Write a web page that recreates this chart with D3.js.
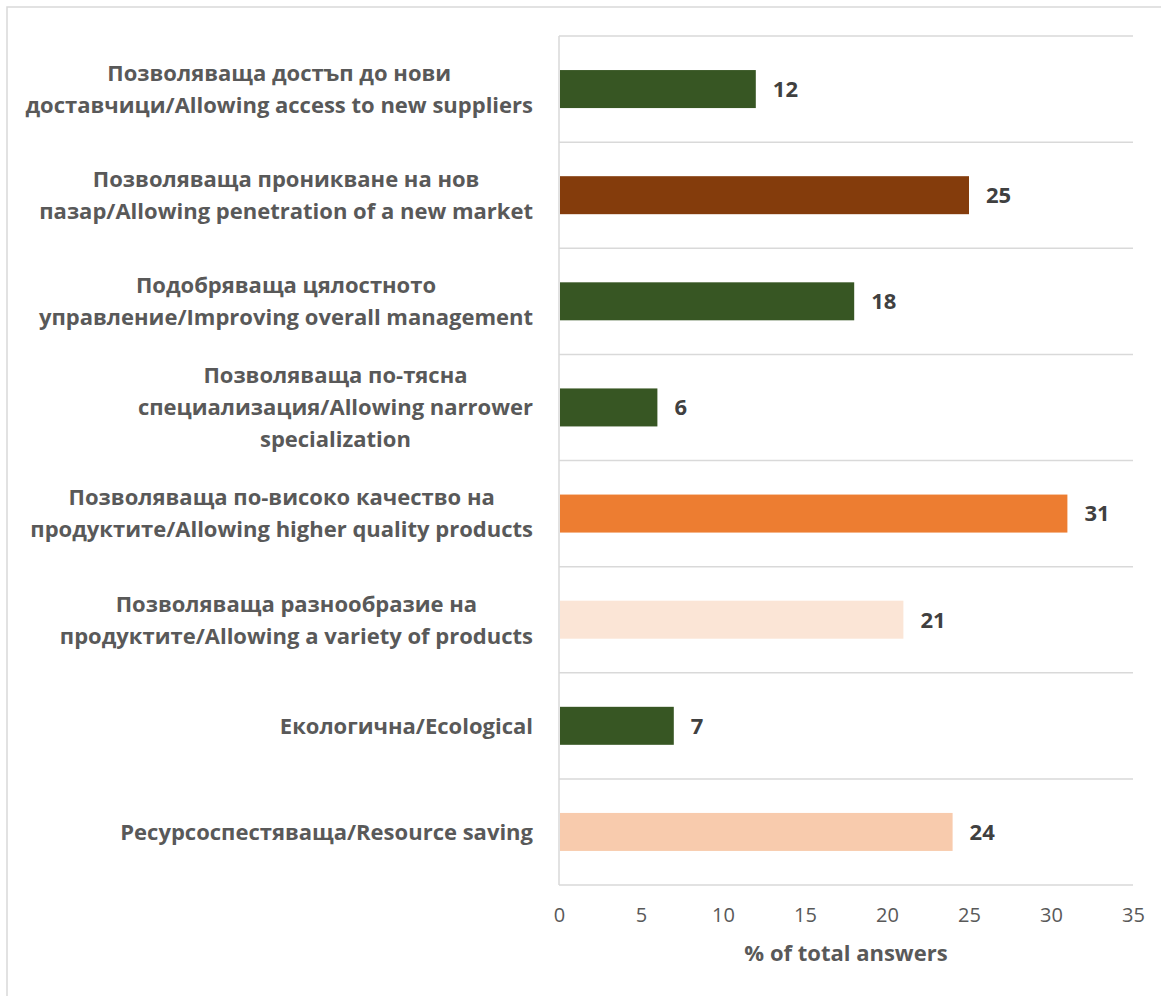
<!DOCTYPE html>
<html>
<head>
<meta charset="utf-8">
<script src="https://cdn.jsdelivr.net/npm/d3@7"></script>
<style>
  html, body { margin: 0; padding: 0; background: #ffffff; }
  svg { display: block; }
  text { font-family: "Open Sans", "Noto Sans", sans-serif; }
</style>
</head>
<body>
<svg id="chart" width="1161" height="996"></svg>
<script>
// Survey answers: benefits of the change, % of total answers
const categories = [
  "Позволяваща достъп до нови\nдоставчици/Allowing access to new suppliers",
  "Позволяваща проникване на нов\nпазар/Allowing penetration of a new market",
  "Подобряваща цялостното\nуправление/Improving overall management",
  "Позволяваща по-тясна\nспециализация/Allowing narrower\nspecialization",
  "Позволяваща по-високо качество на\nпродуктите/Allowing higher quality products",
  "Позволяваща разнообразие на\nпродуктите/Allowing a variety of products",
  "Екологична/Ecological",
  "Ресурсоспестяваща/Resource saving"
];
const values = [12, 25, 18, 6, 31, 21, 7, 24];
const barColors = ["#375623", "#843C0C", "#375623", "#375623", "#ED7D31", "#FBE5D6", "#375623", "#F8CBAD"];
const xTicks = [0, 5, 10, 15, 20, 25, 30, 35];
const xTitle = "% of total answers";

const svg = d3.select("#chart");
const plot = { left: 559, right: 1133, top: 36, bottom: 885 };

// outer frame (only its top and left edges fall inside the canvas)
svg.append("rect")
  .attr("x", 7).attr("y", 7)
  .attr("width", 1170).attr("height", 1010)
  .attr("fill", "none").attr("stroke", "#d9d9d9").attr("stroke-width", 1.5);

const x = d3.scaleLinear().domain([0, 35]).range([plot.left, plot.right]);
const y = d3.scaleBand().domain(d3.range(categories.length))
  .range([plot.top, plot.bottom]).paddingInner(0).paddingOuter(0);

// category separators
const seps = d3.range(categories.length + 1).map(i => plot.top + i * y.step());
svg.append("g").selectAll("line").data(seps).join("line")
  .attr("x1", plot.left).attr("x2", plot.right)
  .attr("y1", d => d).attr("y2", d => d)
  .attr("stroke", "#d9d9d9").attr("stroke-width", 1.5);

// vertical axis line
svg.append("line")
  .attr("x1", plot.left).attr("x2", plot.left)
  .attr("y1", plot.top).attr("y2", plot.bottom)
  .attr("stroke", "#d9d9d9").attr("stroke-width", 1.5);

// bars
const barH = 38;
svg.append("g").selectAll("rect").data(values).join("rect")
  .attr("x", x(0) + 1)
  .attr("y", (d, i) => y(i) + y.bandwidth() / 2 - barH / 2)
  .attr("width", d => x(d) - x(0) - 1)
  .attr("height", barH)
  .attr("fill", (d, i) => barColors[i]);

// value labels
svg.append("g").selectAll("text").data(values).join("text")
  .attr("x", d => x(d) + 17)
  .attr("y", (d, i) => y(i) + y.bandwidth() / 2)
  .attr("dy", "0.36em")
  .attr("font-size", 22).attr("font-weight", 700)
  .attr("fill", "#404040")
  .text(d => d);

// x axis
const xAxis = d3.axisBottom(x).tickValues(xTicks).tickSize(0).tickPadding(0);
const gx = svg.append("g").attr("transform", `translate(0,${plot.bottom})`).call(xAxis);
gx.select(".domain").remove();
gx.selectAll("text")
  .attr("y", 30).attr("dy", "0.36em")
  .attr("font-size", 20).attr("fill", "#595959")
  .style("font-family", "'Open Sans', sans-serif");

svg.append("text")
  .attr("x", (plot.left + plot.right) / 2).attr("y", 953)
  .attr("dy", "0.36em")
  .attr("text-anchor", "middle")
  .attr("font-size", 22).attr("font-weight", 700)
  .attr("fill", "#595959")
  .text(xTitle);

// category labels: wrapped, lines centred on each other, block right-aligned to the axis
const lineH = 32;
const labelRight = 533;
const gl = svg.append("g");
categories.forEach((cat, i) => {
  const lines = cat.split("\n");
  const t = gl.append("text")
    .attr("font-size", 22).attr("font-weight", 700)
    .attr("fill", "#595959")
    .attr("text-anchor", "middle");
  const cy = y(i) + y.bandwidth() / 2;
  const y0 = cy - (lines.length - 1) * lineH / 2;
  const spans = lines.map((ln, k) => t.append("tspan")
    .attr("y", y0 + k * lineH).attr("dy", "0.36em").text(ln));
  const maxW = d3.max(spans, s => s.node().getComputedTextLength());
  spans.forEach(s => s.attr("x", labelRight - maxW / 2));
});
</script>
</body>
</html>
